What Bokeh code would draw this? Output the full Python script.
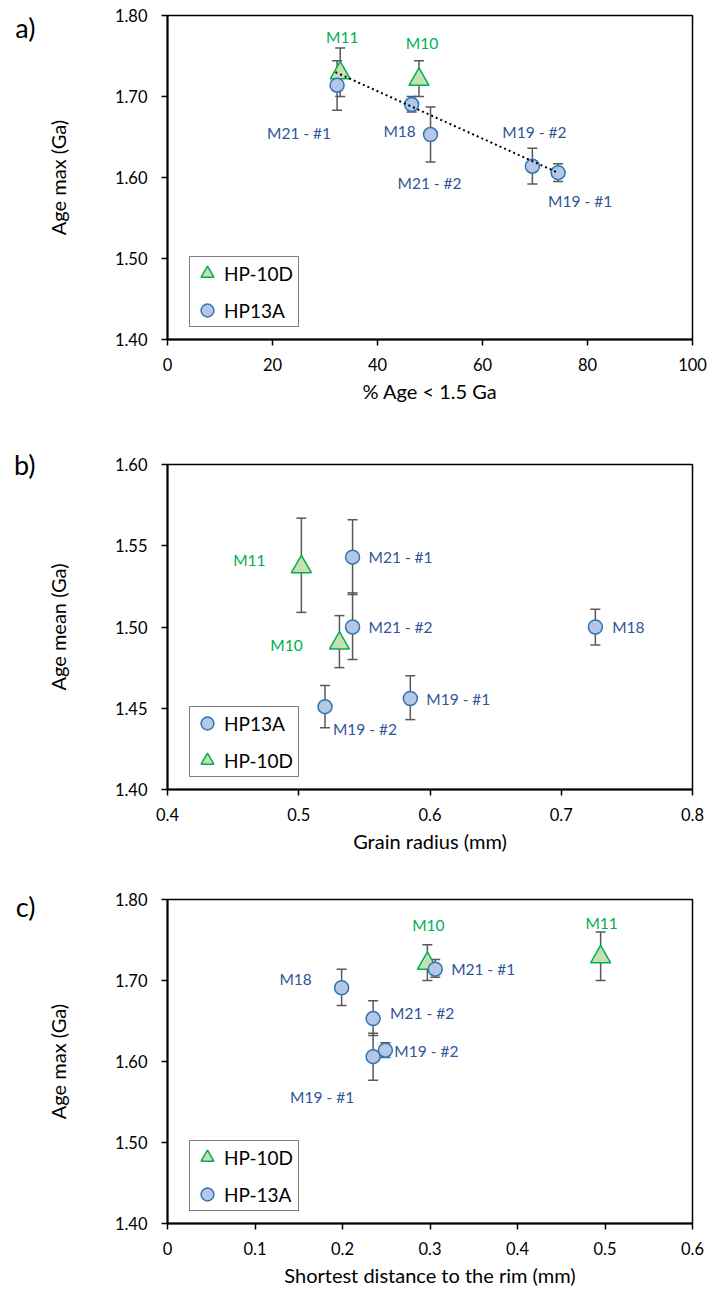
from bokeh.plotting import figure
from bokeh.models import (ColumnDataSource, Whisker, TeeHead, Range1d, FixedTicker,
                          NumeralTickFormatter, Legend, LegendItem, LinearAxis,
                          CustomJSTickFormatter)
from bokeh.layouts import column
from bokeh.core.properties import value
from bokeh.embed import file_html
from bokeh.resources import INLINE

# ---------------- data ----------------
# Panel a) Age max vs % Age < 1.5 Ga
a_hp10d_names = ["M11", "M10"]
a_hp10d_x = [32.9, 47.9]
a_hp10d_y = [1.729, 1.721]
a_hp10d_lo = [1.700, 1.700]
a_hp10d_hi = [1.760, 1.744]

a_hp13a_names = ["M21 - #1", "M18", "M21 - #2", "M19 - #2", "M19 - #1"]
a_hp13a_x = [32.3, 46.5, 50.1, 69.5, 74.4]
a_hp13a_y = [1.714, 1.690, 1.653, 1.614, 1.606]
a_hp13a_lo = [1.683, 1.681, 1.619, 1.592, 1.595]
a_hp13a_hi = [1.744, 1.700, 1.687, 1.636, 1.617]

a_trend_x = [32.0, 74.0]
a_trend_y = [1.730, 1.607]

# Panel b) Age mean vs grain radius
b_hp13a_names = ["M21 - #1", "M21 - #2", "M18", "M19 - #1", "M19 - #2"]
b_hp13a_x = [0.541, 0.541, 0.726, 0.585, 0.520]
b_hp13a_y = [1.543, 1.500, 1.500, 1.456, 1.451]
b_hp13a_lo = [1.520, 1.480, 1.489, 1.443, 1.438]
b_hp13a_hi = [1.566, 1.521, 1.511, 1.470, 1.464]

b_hp10d_names = ["M11", "M10"]
b_hp10d_x = [0.502, 0.531]
b_hp10d_y = [1.537, 1.490]
b_hp10d_lo = [1.509, 1.475]
b_hp10d_hi = [1.567, 1.507]

# Panel c) Age max vs shortest distance to the rim
c_hp10d_names = ["M10", "M11"]
c_hp10d_x = [0.297, 0.495]
c_hp10d_y = [1.721, 1.729]
c_hp10d_lo = [1.700, 1.700]
c_hp10d_hi = [1.744, 1.760]

c_hp13a_names = ["M21 - #1", "M18", "M21 - #2", "M19 - #2", "M19 - #1"]
c_hp13a_x = [0.306, 0.199, 0.235, 0.249, 0.235]
c_hp13a_y = [1.714, 1.691, 1.653, 1.614, 1.606]
c_hp13a_lo = [1.704, 1.669, 1.632, 1.605, 1.577]
c_hp13a_hi = [1.726, 1.714, 1.675, 1.623, 1.635]

a_xticks = [0, 20, 40, 60, 80, 100]
a_yticks = [1.40, 1.50, 1.60, 1.70, 1.80]
b_xticks = [0.4, 0.5, 0.6, 0.7, 0.8]
b_yticks = [1.40, 1.45, 1.50, 1.55, 1.60]
c_xticks = [0, 0.1, 0.2, 0.3, 0.4, 0.5, 0.6]
c_yticks = [1.40, 1.50, 1.60, 1.70, 1.80]

# ---------------- styling ----------------
FONT = "Lato"
BLUE_EDGE = "#2E75B6"
BLUE_FILL = "#B4C7E7"
BLUE_TEXT = "#2F5597"
GREEN_EDGE = "#00B050"
GREEN_FILL = "#C5E0B4"
GREEN_TEXT = "#00B050"
ERR = "#595959"
W = 714

# label offsets (pixels, screen: +x right, +y down) keyed by name
a_off = {"M11": (2, -36), "M10": (3, -36), "M21 - #1": (-38, 48), "M18": (-12, 26),
         "M21 - #2": (-1, 48), "M19 - #2": (2, -34), "M19 - #1": (22, 28)}
b_off = {"M11": (-52, -7), "M10": (-53, 2), "M21 - #1": (48, 0), "M21 - #2": (48, 0),
         "M18": (33, 0), "M19 - #1": (48, 0), "M19 - #2": (40, 22)}
c_off = {"M10": (1, -38), "M11": (1, -34), "M21 - #1": (48, 0), "M18": (-46, -9),
         "M21 - #2": (49, -6), "M19 - #2": (41, 1), "M19 - #1": (-51, 40)}


def make_src(names, xs, ys, lo, hi, offs):
    return ColumnDataSource(dict(
        name=names, x=xs, y=ys, lo=lo, hi=hi,
        dx=[offs[n][0] for n in names], dy=[offs[n][1] for n in names]))


def whisker(src):
    return Whisker(source=src, base="x", upper="hi", lower="lo",
                   line_color=ERR, line_width=1.5,
                   upper_head=TeeHead(size=10, line_color=ERR, line_width=1.5),
                   lower_head=TeeHead(size=10, line_color=ERR, line_width=1.5))


def make_panel(letter, letter_dy, xr, yr, xticks, yticks, xfmt, yfmt, xlabel, ylabel,
               height, top, bottom, right, tri_src, circ_src, legend_order,
               circ_label, trend=None, x_overrides=None, xlab_standoff=12,
               xtitle_standoff=5):
    p = figure(width=W, height=height, x_range=Range1d(*xr), y_range=Range1d(*yr),
               output_backend="svg", toolbar_location=None,
               min_border_left=167, min_border_right=right,
               min_border_top=top, min_border_bottom=bottom)
    p.xgrid.visible = False
    p.ygrid.visible = False
    p.outline_line_color = "black"
    p.outline_line_width = 1.5
    p.background_fill_color = "white"
    p.border_fill_color = "white"

    for ax, ticks, fmt in ((p.xaxis[0], xticks, xfmt), (p.yaxis[0], yticks, yfmt)):
        ax.ticker = FixedTicker(ticks=ticks)
        ax.formatter = NumeralTickFormatter(format=fmt)
        ax.major_label_text_font = FONT
        ax.major_label_text_font_size = "16.5px"
        ax.major_label_text_color = "black"
        ax.major_tick_out = 6
        ax.major_tick_in = 0
        ax.minor_tick_out = 0
        ax.minor_tick_in = 0
        ax.major_tick_line_width = 1.5
        ax.major_tick_line_color = "black"
        ax.axis_line_width = 2
        ax.axis_line_color = "black"
        ax.axis_label_text_font = FONT
        ax.axis_label_text_font_size = "20px"
        ax.axis_label_text_font_style = "normal"
        ax.axis_label_text_color = "black"
    if x_overrides:
        p.xaxis[0].major_label_overrides = x_overrides
    p.xaxis[0].axis_label = xlabel
    p.yaxis[0].axis_label = ylabel
    p.xaxis[0].major_label_standoff = xlab_standoff
    p.xaxis[0].axis_label_standoff = xtitle_standoff
    p.yaxis[0].major_label_standoff = 14
    p.yaxis[0].axis_label_standoff = 42

    p.add_layout(whisker(tri_src))
    p.add_layout(whisker(circ_src))

    tri = p.scatter("x", "y", source=tri_src, marker="triangle", size=20,
                    fill_color=GREEN_FILL, line_color=GREEN_EDGE, line_width=1.5)
    circ = p.scatter("x", "y", source=circ_src, marker="circle", size=14,
                     fill_color=BLUE_FILL, line_color=BLUE_EDGE, line_width=1.5)
    if trend is not None:
        p.line(trend[0], trend[1], line_color="black", line_width=2, line_dash="2 3")

    for src, col in ((tri_src, GREEN_TEXT), (circ_src, BLUE_TEXT)):
        p.text(x="x", y="y", text="name", source=src, x_offset="dx", y_offset="dy",
               text_align="center", text_baseline="middle", text_font=value(FONT),
               text_font_size="15.5px", text_color=col)

    items = {"tri": LegendItem(label="HP-10D", renderers=[tri]),
             "circ": LegendItem(label=circ_label, renderers=[circ])}
    legend = Legend(items=[items[k] for k in legend_order], location=(22, 12),
                    glyph_width=34, glyph_height=32, label_standoff=-4,
                    label_width=74, label_height=20, spacing=5, padding=0, margin=0,
                    border_line_color="black", border_line_width=1.5,
                    background_fill_color="white", background_fill_alpha=1,
                    label_text_font=FONT, label_text_font_size="19px",
                    label_text_color="black")
    p.add_layout(legend)

    # panel letter: an unadorned outer axis carrying a single label
    frame_h = height - top - bottom
    letter_y = yr[1] - letter_dy * (yr[1] - yr[0]) / frame_h
    p.extra_y_ranges = {"letter": Range1d(*yr)}
    lax = LinearAxis(y_range_name="letter", ticker=FixedTicker(ticks=[letter_y]),
                     formatter=CustomJSTickFormatter(code="return '%s'" % letter),
                     axis_line_color=None, major_tick_line_color=None,
                     minor_tick_line_color=None, major_tick_out=0, major_tick_in=0,
                     minor_tick_out=0, minor_tick_in=0,
                     major_label_standoff=7, major_label_text_font=FONT,
                     major_label_text_font_size="27px", major_label_text_color="black")
    p.add_layout(lax, "left")
    return p


pa = make_panel("a)", 12, (0, 100), (1.40, 1.80), a_xticks, a_yticks, "0", "0.00",
                "% Age < 1.5 Ga", "Age max (Ga)", 420, 15, 81, 20,
                make_src(a_hp10d_names, a_hp10d_x, a_hp10d_y, a_hp10d_lo, a_hp10d_hi, a_off),
                make_src(a_hp13a_names, a_hp13a_x, a_hp13a_y, a_hp13a_lo, a_hp13a_hi, a_off),
                ["tri", "circ"], "HP13A", trend=(a_trend_x, a_trend_y))

pb = make_panel("b)", 0, (0.4, 0.8), (1.40, 1.60), b_xticks, b_yticks, "0.0", "0.00",
                "Grain radius (mm)", "Age mean (Ga)", 438, 44, 69, 22,
                make_src(b_hp10d_names, b_hp10d_x, b_hp10d_y, b_hp10d_lo, b_hp10d_hi, b_off),
                make_src(b_hp13a_names, b_hp13a_x, b_hp13a_y, b_hp13a_lo, b_hp13a_hi, b_off),
                ["circ", "tri"], "HP13A")

pc = make_panel("c)", 7, (0, 0.6), (1.40, 1.80), c_xticks, c_yticks, "0.0", "0.00",
                "Shortest distance to the rim (mm)", "Age max (Ga)", 435, 41, 70, 19,
                make_src(c_hp10d_names, c_hp10d_x, c_hp10d_y, c_hp10d_lo, c_hp10d_hi, c_off),
                make_src(c_hp13a_names, c_hp13a_x, c_hp13a_y, c_hp13a_lo, c_hp13a_hi, c_off),
                ["tri", "circ"], "HP-13A", x_overrides={0: "0"},
                xlab_standoff=12, xtitle_standoff=5)

layout = column(pa, pb, pc, spacing=0)
open("out.html", "w").write(file_html(layout, INLINE))
